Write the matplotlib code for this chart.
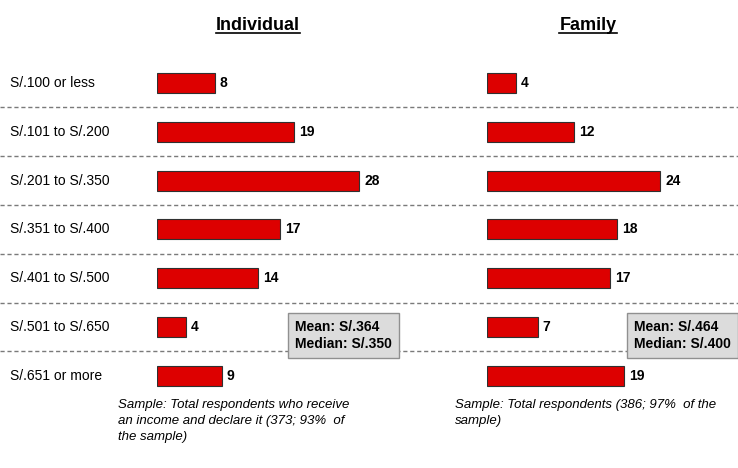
import matplotlib
matplotlib.use('Agg')
import matplotlib.pyplot as plt
from matplotlib.lines import Line2D

plt.rcParams['font.family'] = ['Liberation Sans', 'DejaVu Sans']

# Rangos de ingreso y porcentajes
categorias = ['S/.100 or less', 'S/.101 to S/.200', 'S/.201 to S/.350', 'S/.351 to S/.400',
              'S/.401 to S/.500', 'S/.501 to S/.650', 'S/.651 or more']
individual = [8, 19, 28, 17, 14, 4, 9]
familiar = [4, 12, 24, 18, 17, 7, 19]

resumen_ind = 'Mean: S/.364\nMedian: S/.350'
resumen_fam = 'Mean: S/.464\nMedian: S/.400'
nota_ind = 'Sample: Total respondents who receive\nan income and declare it (373; 93%  of\nthe sample)'
nota_fam = 'Sample: Total respondents (386; 97%  of the\nsample)'

W, H = 738, 468
fig = plt.figure(figsize=(W / 100, H / 100), dpi=100)

fila = 48.8
y_top = 83 - fila / 2
alto = fila * len(categorias)
bottom = (H - y_top - alto) / H

# fondo con lineas punteadas y etiquetas
ax_bg = fig.add_axes([0, bottom, 1, alto / H])
ax_bg.set_xlim(0, 1)
ax_bg.set_ylim(len(categorias) - 0.5, -0.5)
ax_bg.axis('off')
for i in range(len(categorias) - 1):
    ax_bg.axhline(i + 0.5, color='#7a7a7a', lw=1, ls=(0, (3, 2)))
for i, c in enumerate(categorias):
    ax_bg.text(10 / W, i, c, fontsize=10, va='center', ha='left')

escala = 7.22  # px por punto porcentual


def panel(x0, valores, resumen, caja_x, nota, nota_x):
    ancho = W - x0
    ax = fig.add_axes([x0 / W, bottom, ancho / W, alto / H])
    ax.set_xlim(0, ancho / escala)
    ax.set_ylim(len(categorias) - 0.5, -0.5)
    ax.axis('off')
    ax.barh(range(len(valores)), valores, height=0.41, color='#dd0000',
            edgecolor='#303030', linewidth=0.8)
    for i, v in enumerate(valores):
        ax.text(v + 5 / escala, i, str(v), fontsize=10, fontweight='bold', va='center', ha='left')
    ax.text((caja_x - x0) / escala, 5.17, resumen, fontsize=10, fontweight='bold',
            va='center', ha='left', linespacing=1.25,
            bbox=dict(boxstyle='square,pad=0.5', facecolor='#dcdcdc', edgecolor='#909090', lw=1))
    fig.text(nota_x / W, 1 - 399 / H, nota, fontsize=9.5, style='italic',
             va='top', ha='left', linespacing=1.42)
    return ax


panel(157, individual, resumen_ind, 295, nota_ind, 118)
panel(487, familiar, resumen_fam, 634, nota_fam, 455)

# titulos subrayados
titulos = []
for x, t in [(258, 'Individual'), (588, 'Family')]:
    titulos.append(fig.text(x / W, 1 - 25 / H, t, fontsize=13, fontweight='bold',
                            ha='center', va='center'))
fig.canvas.draw()
r = fig.canvas.get_renderer()
for t in titulos:
    bb = t.get_window_extent(r)
    yl = (bb.y0 + 1) / H
    fig.add_artist(Line2D([bb.x0 / W, bb.x1 / W], [yl, yl], color='black', lw=1.2,
                          transform=fig.transFigure))

fig.savefig('out.png', dpi=100)
